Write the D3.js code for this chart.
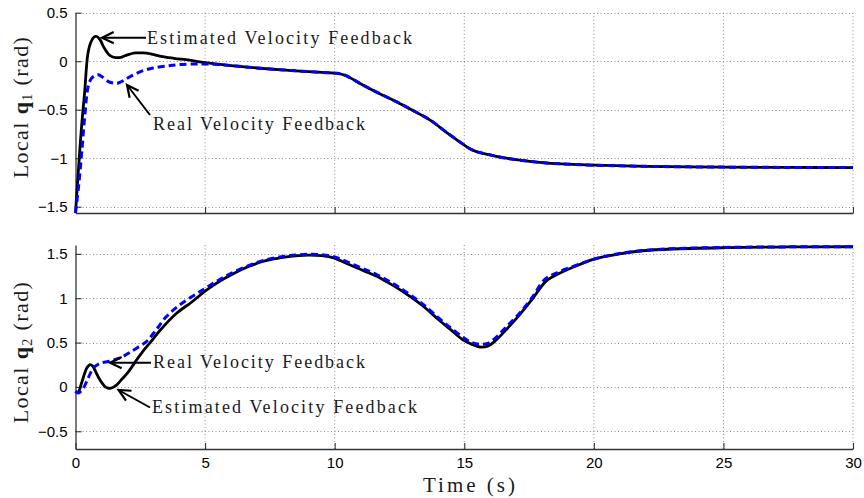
<!DOCTYPE html>
<html>
<head>
<meta charset="utf-8">
<script src="https://cdn.jsdelivr.net/npm/d3@7"></script>
<style>
  body { margin: 0; background: #fff; }
  .tick text { font-family: "Liberation Sans", Arial, sans-serif; font-size: 15px; fill: #000; }
  .lbl { font-family: "Liberation Serif", "DejaVu Serif", serif; fill: #1a1a1a; }
</style>
</head>
<body>
<div id="chart"></div>
<script>
// time (s) and joint angle (rad)

// top panel - local q1
var q1EstT = [0, 0.08, 0.16, 0.25, 0.35, 0.48, 0.6, 0.72, 0.82, 0.95, 1.08, 1.22, 1.35, 1.55, 1.75, 2.0, 2.3, 2.6, 2.9, 3.3, 3.8, 4.4, 5.0, 6.0, 7.0, 8.0, 9.0, 9.7, 10.1, 10.4, 11.1, 11.7, 12.4, 13.0, 13.7, 14.3, 14.95, 15.2, 15.5, 15.9, 16.4, 17.0, 17.6, 18.2, 19.0, 20, 22, 25, 27.5, 30];
var q1Est  = [-1.565, -1.25, -0.94, -0.62, -0.33, 0.08, 0.2, 0.25, 0.255, 0.22, 0.15, 0.09, 0.055, 0.038, 0.04, 0.065, 0.085, 0.085, 0.075, 0.05, 0.03, 0.01, -0.015, -0.045, -0.07, -0.09, -0.108, -0.118, -0.125, -0.145, -0.247, -0.33, -0.42, -0.505, -0.61, -0.73, -0.855, -0.9, -0.935, -0.96, -0.99, -1.015, -1.035, -1.05, -1.062, -1.072, -1.084, -1.092, -1.095, -1.097];

var q1RealT = [0, 0.12, 0.24, 0.37, 0.49, 0.62, 0.75, 0.88, 1.05, 1.27, 1.45, 1.65, 1.85, 2.1, 2.4, 2.7, 3.0, 3.5, 4.0, 4.8, 5.5, 6.2, 7.0, 8.0, 9.0, 9.7, 10.1, 10.4, 11.1, 11.7, 12.4, 13.0, 13.7, 14.3, 14.95, 15.2, 15.5, 15.9, 16.4, 17.0, 17.6, 18.2, 19.0, 20, 22, 25, 27.5, 30];
var q1Real  = [-1.565, -1.29, -0.94, -0.53, -0.26, -0.175, -0.15, -0.14, -0.165, -0.21, -0.225, -0.225, -0.2, -0.16, -0.12, -0.09, -0.07, -0.05, -0.035, -0.028, -0.035, -0.05, -0.07, -0.09, -0.108, -0.118, -0.125, -0.145, -0.247, -0.33, -0.42, -0.505, -0.61, -0.73, -0.855, -0.9, -0.935, -0.96, -0.99, -1.015, -1.035, -1.05, -1.062, -1.072, -1.084, -1.092, -1.095, -1.097];

// bottom panel - local q2
var q2EstT = [0, 0.1, 0.24, 0.35, 0.45, 0.56, 0.66, 0.78, 0.9, 1.02, 1.15, 1.28, 1.42, 1.58, 1.8, 2.04, 2.3, 2.6, 2.88, 3.3, 3.9, 4.5, 5.0, 5.5, 6.05, 6.7, 7.3, 8.0, 8.6, 9.0, 9.5, 9.97, 10.4, 10.8, 11.2, 11.6, 12.1, 12.5, 13.0, 13.5, 14.0, 14.5, 14.95, 15.3, 15.6, 15.9, 16.2, 16.6, 17.1, 17.6, 18.15, 18.6, 19.45, 20.0, 21.0, 21.9, 23.0, 25.1, 27.5, 30];
var q2Est  = [-0.05, -0.06, 0.05, 0.15, 0.22, 0.25, 0.235, 0.17, 0.1, 0.045, 0.0, -0.015, -0.01, 0.02, 0.09, 0.17, 0.28, 0.4, 0.5, 0.65, 0.83, 0.96, 1.08, 1.18, 1.27, 1.36, 1.42, 1.46, 1.48, 1.485, 1.48, 1.455, 1.40, 1.35, 1.30, 1.25, 1.17, 1.10, 1.00, 0.89, 0.76, 0.64, 0.53, 0.48, 0.45, 0.46, 0.52, 0.64, 0.80, 0.98, 1.19, 1.27, 1.38, 1.44, 1.50, 1.535, 1.555, 1.57, 1.578, 1.58];

var q2RealT = [0, 0.1, 0.3, 0.49, 0.68, 0.85, 1.0, 1.33, 1.6, 1.85, 2.1, 2.37, 2.75, 3.1, 3.5, 4.0, 4.5, 5.0, 5.5, 6.0, 6.7, 7.3, 8.0, 8.6, 9.0, 9.5, 10.0, 10.4, 10.8, 11.2, 11.6, 12.1, 12.5, 13.0, 13.5, 14.0, 14.5, 15.0, 15.3, 15.6, 15.9, 16.2, 16.6, 17.1, 17.6, 18.1, 18.6, 19.5, 20, 21, 22, 23, 25, 27.5, 30];
var q2Real  = [-0.05, -0.07, -0.015, 0.1, 0.21, 0.25, 0.27, 0.29, 0.315, 0.345, 0.39, 0.44, 0.515, 0.64, 0.79, 0.92, 1.02, 1.11, 1.2, 1.28, 1.37, 1.43, 1.47, 1.49, 1.495, 1.49, 1.465, 1.42, 1.37, 1.32, 1.27, 1.19, 1.12, 1.02, 0.91, 0.78, 0.66, 0.55, 0.50, 0.48, 0.49, 0.55, 0.67, 0.82, 1.0, 1.21, 1.29, 1.39, 1.44, 1.505, 1.54, 1.558, 1.572, 1.579, 1.58];

var xTicks = [0, 5, 10, 15, 20, 25, 30];
var q1Ticks = [-1.5, -1, -0.5, 0, 0.5];
var q2Ticks = [-0.5, 0, 0.5, 1, 1.5];

var w = 864;
var h = 498;

var svg = d3.select("#chart")
            .append("svg")
            .attr("width", w)
            .attr("height", h);

var xscale = d3.scaleLinear()
                .domain([0, 30])
                .range([75.5, 853]);

var toPoints = function(ts, vs) {
    return ts.map(function(t, i) { return {t: t, v: vs[i]}; });
};

var drawPanel = function(cfg) {
    var yscale = d3.scaleLinear()
                    .domain(cfg.domain)
                    .range([cfg.bottom, cfg.top]);

    var g = svg.append("g");

    // dotted grid
    g.append("g")
        .selectAll("line")
        .data(xTicks.slice(1))
        .enter()
        .append("line")
        .attr("x1", function(d) { return xscale(d); })
        .attr("x2", function(d) { return xscale(d); })
        .attr("y1", cfg.top)
        .attr("y2", cfg.bottom)
        .attr("stroke", "#8c8c8c")
        .attr("stroke-width", 1)
        .attr("stroke-dasharray", "1,2.5");

    g.append("g")
        .selectAll("line")
        .data(cfg.ticks)
        .enter()
        .append("line")
        .attr("x1", xscale(0))
        .attr("x2", xscale(30))
        .attr("y1", function(d) { return Math.round(yscale(d)) + 0.5; })
        .attr("y2", function(d) { return Math.round(yscale(d)) + 0.5; })
        .attr("stroke", "#8c8c8c")
        .attr("stroke-width", 1)
        .attr("stroke-dasharray", "1,2.5");

    // axes, ticks pointing inwards like matlab
    var xaxis = d3.axisBottom(xscale)
                    .tickValues(xTicks)
                    .tickSizeInner(-6)
                    .tickSizeOuter(0)
                    .tickPadding(8);
    if (!cfg.xlabels) xaxis.tickFormat("");

    var yaxis = d3.axisLeft(yscale)
                    .tickValues(cfg.ticks)
                    .tickSizeInner(-6)
                    .tickSizeOuter(0)
                    .tickPadding(8)
                    .tickFormat(d3.format(""));

    var xg = g.append("g")
        .attr("transform", "translate(0," + cfg.bottom + ")")
        .call(xaxis);

    var yg = g.append("g")
        .attr("transform", "translate(" + xscale(0) + ",0)")
        .call(yaxis);

    [xg, yg].forEach(function(a) {
        a.select(".domain").attr("stroke", "#333").attr("stroke-width", 1.3);
        a.selectAll(".tick line").attr("stroke", "#333").attr("stroke-width", 1.1);
    });

    var line = d3.line()
                .x(function(d) { return xscale(d.t); })
                .y(function(d) { return yscale(d.v); })
                .curve(d3.curveCatmullRom.alpha(0.5));

    g.append("path")
        .datum(toPoints(cfg.estT, cfg.est))
        .attr("d", line)
        .attr("fill", "none")
        .attr("stroke", "#000")
        .attr("stroke-width", 2.8)
        .attr("stroke-linejoin", "round");

    g.append("path")
        .datum(toPoints(cfg.realT, cfg.real))
        .attr("d", line)
        .attr("fill", "none")
        .attr("stroke", "#0000ff")
        .attr("stroke-width", 3)
        .attr("stroke-dasharray", "7,4");

    // y label: Local q_n (rad)
    var yl = g.append("text")
        .attr("class", "lbl")
        .attr("transform", "translate(28," + cfg.labelY + ") rotate(-90)")
        .attr("text-anchor", "middle")
        .attr("font-size", 22)
        .attr("letter-spacing", 1.4);
    yl.append("tspan").text("Local ");
    yl.append("tspan").attr("font-weight", "bold").text("q");
    yl.append("tspan").attr("font-size", 14).attr("dy", 4).text(cfg.sub);
    yl.append("tspan").attr("dy", -4).text(" (rad)");

    return yscale;
};

var annotate = function(txt, tx, ty, len, x1, y1, x2, y2) {
    svg.append("text")
        .attr("class", "lbl")
        .attr("x", tx)
        .attr("y", ty)
        .attr("font-size", 18)
        .attr("textLength", len)
        .attr("lengthAdjust", "spacing")
        .text(txt);

    // arrow from (x1,y1) to tip (x2,y2), open head
    var ang = Math.atan2(y2 - y1, x2 - x1);
    var hl = 13, spread = 0.45;
    var head = "M" + (x2 - hl * Math.cos(ang - spread)) + "," + (y2 - hl * Math.sin(ang - spread)) +
               "L" + x2 + "," + y2 +
               "L" + (x2 - hl * Math.cos(ang + spread)) + "," + (y2 - hl * Math.sin(ang + spread));
    svg.append("line")
        .attr("x1", x1).attr("y1", y1)
        .attr("x2", x2).attr("y2", y2)
        .attr("stroke", "#000")
        .attr("stroke-width", 2);
    svg.append("path")
        .attr("d", head)
        .attr("fill", "none")
        .attr("stroke", "#000")
        .attr("stroke-width", 2.2);
};

drawPanel({
    domain: [-1.565, 0.5], top: 12.7, bottom: 213, ticks: q1Ticks,
    estT: q1EstT, est: q1Est, realT: q1RealT, real: q1Real,
    xlabels: false, sub: "1", labelY: 107
});

drawPanel({
    domain: [-0.7, 1.6], top: 245, bottom: 449, ticks: q2Ticks,
    estT: q2EstT, est: q2Est, realT: q2RealT, real: q2Real,
    xlabels: true, sub: "2", labelY: 352
});

annotate("Estimated Velocity Feedback", 147, 43.5, 265, 146, 37.7, 102, 37.7);
annotate("Real Velocity Feedback", 153, 130, 212, 150, 115, 127, 85);
annotate("Real Velocity Feedback", 153, 368.3, 212, 151, 362.7, 110, 362.7);
annotate("Estimated Velocity Feedback", 152, 412.7, 265, 150, 407.5, 118.5, 390);

svg.append("text")
    .attr("class", "lbl")
    .attr("x", 469)
    .attr("y", 492)
    .attr("text-anchor", "middle")
    .attr("font-size", 21)
    .attr("textLength", 92)
    .attr("lengthAdjust", "spacing")
    .text("Time (s)");
</script>
</body>
</html>
